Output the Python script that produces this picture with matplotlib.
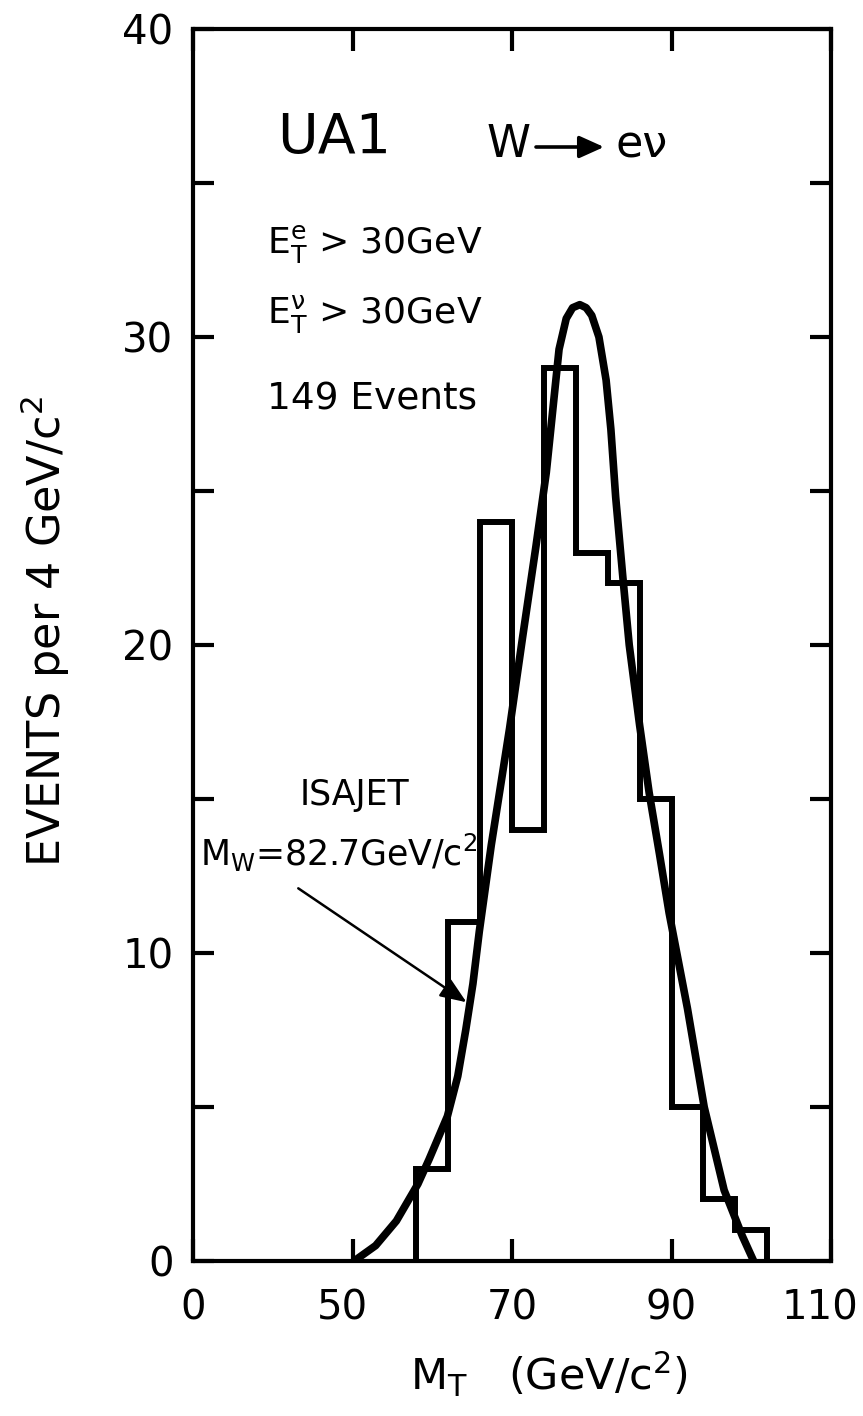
import numpy as np
import matplotlib
matplotlib.use("Agg")
import matplotlib.pyplot as plt
from matplotlib.transforms import ScaledTranslation

# ---------------- data ----------------
bin_edges = [58, 62, 66, 70, 74, 78, 82, 86, 90, 94, 98, 102]
bin_counts = [3, 11, 24, 14, 29, 23, 22, 15, 5, 2, 1]

curve_mt = [50.2, 52.9, 55.5, 58.2, 59.6, 61.9, 63.2, 64.2, 65.1, 65.9, 67.4,
            69.7, 71.3, 73.0, 74.3, 75.1, 75.9, 76.8, 77.6, 78.5, 79.3, 80.0,
            80.9, 81.8, 82.4, 83.0, 83.9, 84.7, 86.0, 87.2, 88.5, 89.7, 92.0,
            94.1, 96.6, 98.9, 100.3]
curve_ev = [0.0, 0.5, 1.3, 2.5, 3.3, 4.7, 6.0, 7.5, 9.0, 10.7, 13.5,
            17.3, 20.2, 23.2, 25.6, 27.6, 29.6, 30.6, 30.95, 31.05, 30.95, 30.7,
            30.0, 28.6, 27.0, 24.8, 22.2, 20.0, 17.4, 15.2, 13.2, 11.3, 8.2,
            5.0, 2.3, 0.8, 0.0]

x_ticks = [0, 50, 70, 90, 110]
x_tick_labels = ["0", "50", "70", "90", "110"]
y_major = [0, 10, 20, 30, 40]
y_minor = [5, 15, 25, 35]

# ---------------- style ----------------
plt.rcParams['font.family'] = ['DejaVu Sans']
plt.rcParams['mathtext.default'] = 'regular'

W, H = 863, 1416
fig = plt.figure(figsize=(W / 100, H / 100), dpi=100)

def fx(px):
    return px / W

def fy(py):
    return 1 - py / H

left, right, top, bottom = 193, 831, 29, 1261
ax = fig.add_axes([fx(left), fy(bottom), (right - left) / W, (bottom - top) / H])

# broken x axis: 0-50 compressed to the width of 20 units
def fwd(x):
    x = np.asarray(x, dtype=float)
    return np.where(x < 50, x * 0.4, x - 30)

def inv(u):
    u = np.asarray(u, dtype=float)
    return np.where(u < 20, u / 0.4, u + 30)

ax.set_xscale('function', functions=(fwd, inv))
ax.set_xlim(0, 110)
ax.set_ylim(0, 40)

ax.stairs(bin_counts, bin_edges, color='black', lw=4.3, baseline=0)
ax.plot(curve_mt, curve_ev, color='black', lw=5.5, solid_capstyle='round',
        solid_joinstyle='round')

for s in ax.spines.values():
    s.set_linewidth(3)

ax.set_xticks(x_ticks)
ax.set_xticklabels(x_tick_labels)
ax.xaxis.set_minor_locator(matplotlib.ticker.NullLocator())
ax.set_yticks(y_major)
ax.set_yticks(y_minor, minor=True)
ax.tick_params(axis='both', which='both', direction='in', width=3,
               top=True, right=True)
ax.tick_params(axis='y', which='both', length=15, labelsize=29, pad=14)
ax.tick_params(axis='x', which='both', length=16, labelsize=29, pad=20)

# small horizontal nudges of two x tick labels as in the original lettering
xtl = ax.get_xticklabels()
xtl[1].set_transform(xtl[1].get_transform() + ScaledTranslation(-10 / 100, 0, fig.dpi_scale_trans))
xtl[4].set_transform(xtl[4].get_transform() + ScaledTranslation(-11 / 100, 0, fig.dpi_scale_trans))

# ---------------- texts ----------------
fig.text(fx(277), fy(153), "UA1", fontsize=40, va='baseline', ha='left')
fig.text(fx(487), fy(157), "W", fontsize=32, va='baseline', ha='left')
ax.annotate('', xy=(604, H - 147), xytext=(536, H - 147),
            xycoords='figure pixels', textcoords='figure pixels',
            arrowprops=dict(arrowstyle='-|>,head_length=1.0,head_width=0.45',
                            mutation_scale=15, lw=2.6, color='black',
                            shrinkA=0, shrinkB=0))
fig.text(fx(616), fy(158), "e\u03bd", fontsize=32, va='baseline', ha='left')

fig.text(fx(267), fy(253), "$E_T^e$ > 30GeV", fontsize=26, va='baseline', ha='left')
fig.text(fx(267), fy(323), "$E_T^\u03bd$ > 30GeV", fontsize=26, va='baseline', ha='left')
fig.text(fx(267), fy(410), "149 Events", fontsize=27, va='baseline', ha='left')

fig.text(fx(300), fy(805), "ISAJET", fontsize=25, va='baseline', ha='left')
fig.text(fx(200), fy(866), "$M_W$=82.7GeV/c$^2$", fontsize=25, va='baseline', ha='left')
ax.annotate('', xy=(64.3, 8.4), xytext=(33, 12.1),
            arrowprops=dict(arrowstyle='-|>,head_length=1.0,head_width=0.4',
                            mutation_scale=16, lw=1.8, color='black',
                            shrinkA=0, shrinkB=0))

fig.text(fx(45), fy(632), "EVENTS per 4 GeV/c$^2$", fontsize=32, rotation=90,
         va='center', ha='center')
fig.text(fx(410), fy(1390), "M$_T$   (GeV/c$^2$)", fontsize=31, va='baseline', ha='left')

fig.savefig("out.png", dpi=100)
